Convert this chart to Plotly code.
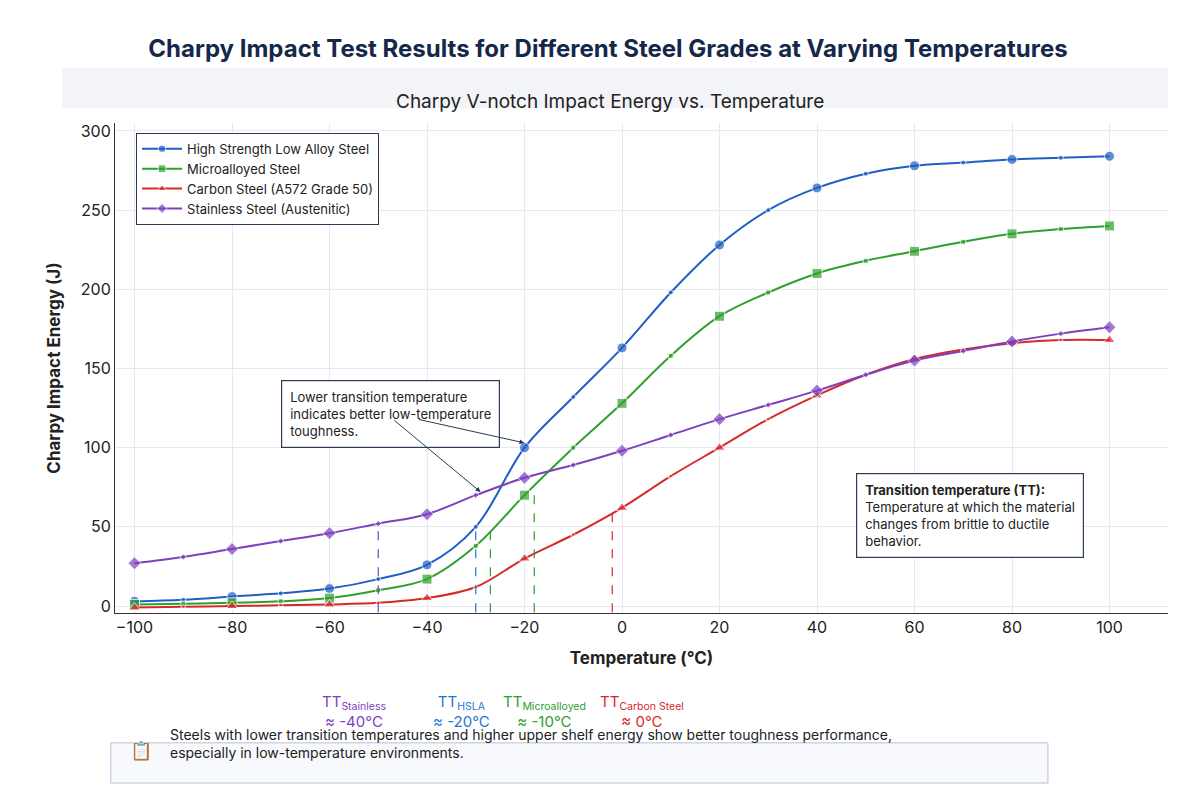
import plotly.graph_objects as go

temps = [-100,-90,-80,-70,-60,-50,-40,-30,-20,-10,0,10,20,30,40,50,60,70,80,90,100]
hsla = [3,4,6,8,11,17,26,50,100,132,163,198,228,250,264,273,278,280,282,283,284]
micro = [1,1.5,2,3,5,10,17,38,70,100,128,158,183,198,210,218,224,230,235,238,240]
carbon = [-1,-0.5,0,0.5,1,2,5,12,30,45,62,82,100,118,133,146,156,162,166,168,168]
stain = [27,31,36,41,46,52,58,70,81,89,98,108,118,127,136,146,155,161,167,172,176]
big_idx = [0,2,4,6,8,10,12,14,16,18,20]

series = [("High Strength Low Alloy Steel", hsla, "#1f5fc4", "circle"),
          ("Microalloyed Steel", micro, "#2ea02e", "square"),
          ("Carbon Steel (A572 Grade 50)", carbon, "#d62a2a", "triangle-up"),
          ("Stainless Steel (Austenitic)", stain, "#7f3fbf", "diamond")]

tt_x = [-50, -30, -27, -18, -2]
tt_y = [52, 50, 48, 72, 62]
tt_col = ["#7f3fbf", "#1f77d4", "#2ea02e", "#2ea02e", "#d62a2a"]

fig = go.Figure()
for name, vals, col, sym in series:
    sizes = [10 if i in big_idx else 5 for i in range(len(temps))]
    fig.add_trace(go.Scatter(x=temps, y=vals, name=name, mode="lines+markers",
                             line=dict(color=col, width=2, shape="spline"),
                             marker=dict(color=col, symbol=sym, size=sizes)))
for x, y, c in zip(tt_x, tt_y, tt_col):
    fig.add_shape(type="line", x0=x, x1=x, y0=-4, y1=y, line=dict(color=c, width=1.2, dash="dash"))

labels = [(-55, "TT<sub>Stainless</sub><br>≈ -40°C", "#7f3fbf"),
          (-33, "TT<sub>HSLA</sub><br>≈ -20°C", "#1f77d4"),
          (-16, "TT<sub>Microalloyed</sub><br>≈ -10°C", "#2ea02e"),
          (4, "TT<sub>Carbon Steel</sub><br>≈ 0°C", "#d62a2a")]
for x, t, c in labels:
    fig.add_annotation(x=x, y=-0.2, xref="x", yref="paper", text=t, showarrow=False,
                       font=dict(size=15, color=c), yanchor="middle")

fig.add_annotation(x=-70, y=143, xref="x", yref="y", showarrow=False, align="left",
                   text="Lower transition temperature<br>indicates better low-temperature<br>toughness.",
                   font=dict(size=13, color="#222"), bgcolor="white", bordercolor="#2b3a55",
                   borderwidth=1.2, borderpad=8, xanchor="left", yanchor="top")
fig.add_annotation(x=-20, y=103, ax=-42, ay=118, xref="x", yref="y", axref="x", ayref="y",
                   showarrow=True, arrowhead=2, arrowwidth=1, arrowcolor="#2b3a55", text="")
fig.add_annotation(x=-29, y=72, ax=-47, ay=118, xref="x", yref="y", axref="x", ayref="y",
                   showarrow=True, arrowhead=2, arrowwidth=1, arrowcolor="#2b3a55", text="")
fig.add_annotation(x=48, y=84, xref="x", yref="y", showarrow=False, align="left",
                   text="<b>Transition temperature (TT):</b><br>Temperature at which the material<br>changes from brittle to ductile<br>behavior.",
                   font=dict(size=13, color="#222"), bgcolor="white", bordercolor="#2b3a55",
                   borderwidth=1.2, borderpad=8, xanchor="left", yanchor="top")

fig.add_shape(type="rect", xref="paper", yref="paper", x0=-0.004, x1=0.886, y0=-0.347, y1=-0.265,
              fillcolor="#f7f9fc", line=dict(color="#b8c2d4", width=1))
fig.add_annotation(xref="paper", yref="paper", x=0.025, y=-0.306, showarrow=False, text="📋",
                   font=dict(size=18), xanchor="center")
fig.add_annotation(xref="paper", yref="paper", x=0.05, y=-0.306, showarrow=False, align="left",
                   xanchor="left", font=dict(size=14, color="#222"),
                   text="Steels with lower transition temperatures and higher upper shelf energy show better toughness performance,<br>especially in low-temperature environments.")

fig.add_shape(type="rect", xref="paper", yref="paper", x0=-0.05, x1=1.0, y0=1.03, y1=1.112,
              fillcolor="#f2f4f8", line=dict(width=0), layer="below")
fig.add_annotation(xref="paper", yref="paper", x=0.47, y=1.071, showarrow=False,
                   text="Charpy V-notch Impact Energy vs. Temperature", font=dict(size=19, color="#222"))

fig.update_layout(
    width=1200, height=800, paper_bgcolor="white", plot_bgcolor="white",
    font=dict(family="Inter, Roboto, sans-serif", color="#222"),
    title=dict(text="<b>Charpy Impact Test Results for Different Steel Grades at Varying Temperatures</b>",
               x=0.5, y=0.96, font=dict(size=24, color="#15284a")),
    margin=dict(l=107, r=40, t=115, b=195, autoexpand=False),
    legend=dict(x=0.02, y=0.98, bgcolor="white", bordercolor="#2b3a55", borderwidth=1,
                font=dict(size=13), itemwidth=40, tracegroupgap=8),
    xaxis=dict(range=[-104, 112], tickvals=list(range(-100, 101, 20)), showgrid=True,
               gridcolor="#e6e9ef", zeroline=False, showline=True, linecolor="#333",
               tickfont=dict(size=16), title=dict(text="<b>Temperature (°C)</b>", font=dict(size=17))),
    yaxis=dict(range=[-4.4, 305], tickvals=list(range(0, 301, 50)), showgrid=True,
               gridcolor="#e6e9ef", zeroline=False, showline=True, linecolor="#333",
               tickfont=dict(size=16), title=dict(text="<b>Charpy Impact Energy (J)</b>", font=dict(size=17))),
)
fig.write_html("out.html")
